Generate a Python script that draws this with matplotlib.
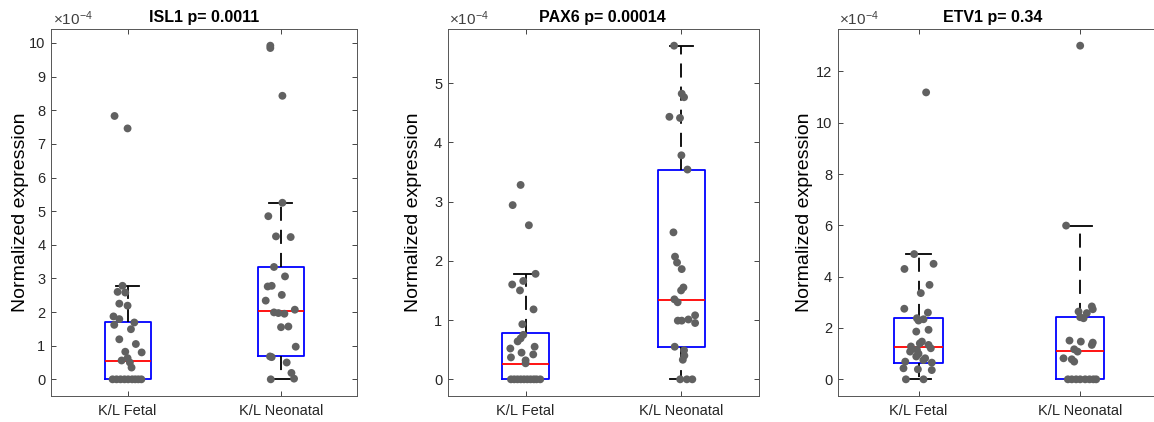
import matplotlib
matplotlib.use('Agg')
import matplotlib.pyplot as plt

plt.rcParams['font.family'] = ['Liberation Sans', 'DejaVu Sans']
plt.rcParams['mathtext.fontset'] = 'custom'
plt.rcParams['mathtext.rm'] = 'Liberation Sans'
plt.rcParams['mathtext.default'] = 'regular'

# ---------------- data (values in units of 1e-4) ----------------
categories = ['K/L Fetal', 'K/L Neonatal']
genes = ['ISL1', 'PAX6', 'ETV1']
p_values = ['0.0011', '0.00014', '0.34']
y_ticks = [list(range(0, 11)), list(range(0, 6)), list(range(0, 13, 2))]

isl1_fetal = [7.83, 7.46, 2.78, 2.60, 2.58, 2.25, 2.19, 1.87, 1.79, 1.62, 1.69, 1.49,
              1.19, 1.05, 0.82, 0.80, 0.56, 0.63, 0.50, 0.35,
              0, 0, 0, 0, 0, 0, 0, 0, 0]
isl1_fetal_jit = [-0.085, 0.0, -0.033, -0.065, -0.015, -0.054, 0.0, -0.092, -0.054, -0.087, 0.044, 0.022,
                  -0.054, 0.054, -0.015, 0.092, -0.039, 0.0, 0.015, 0.026,
                  -0.098, -0.072, -0.046, -0.02, 0.004, 0.03, 0.05, 0.07, 0.09]
isl1_neo = [9.92, 9.85, 8.43, 5.25, 4.85, 4.25, 4.23, 3.34, 3.06, 2.76, 2.78, 2.51, 2.34,
            1.99, 1.97, 1.95, 2.07, 1.55, 1.57, 0.97, 0.68, 0.66, 0.50, 0.19, 0.02, 0.0]
isl1_neo_jit = [-0.068, -0.068, 0.011, 0.011, -0.081, -0.031, 0.065, -0.044, 0.028, -0.085, -0.059, 0.007, -0.098,
                -0.044, -0.015, 0.024, 0.092, 0.002, 0.05, 0.098, -0.070, -0.059, 0.039, 0.07, 0.087, -0.065]

pax6_fetal = [3.28, 2.94, 2.60, 1.78, 1.60, 1.66, 1.50, 1.18, 0.93, 0.75, 0.69, 0.64, 0.52,
              0.55, 0.45, 0.42, 0.37, 0.32, 0.27,
              0, 0, 0, 0, 0, 0, 0, 0, 0, 0]
pax6_fetal_jit = [-0.032, -0.083, 0.021, 0.064, -0.086, -0.015, -0.036, 0.051, -0.021, -0.015, -0.032, -0.051, -0.098,
                  0.058, -0.026, 0.049, -0.094, 0.0, 0.0,
                  -0.094, -0.073, -0.052, -0.031, -0.010, 0.011, 0.032, 0.053, 0.07, 0.094]
pax6_neo = [5.63, 4.82, 4.76, 4.43, 4.41, 3.78, 3.54, 2.48, 2.07, 1.97, 1.86, 1.55, 1.50,
            1.35, 1.30, 0.99, 0.99, 1.01, 1.08, 0.95, 0.55, 0.49, 0.40, 0.33, 0, 0, 0]
pax6_neo_jit = [-0.047, 0.002, 0.017, -0.077, -0.009, 0.0, 0.039, -0.051, -0.041, -0.028, 0.002, 0.013, -0.002,
                -0.045, -0.024, -0.023, 0.002, 0.045, 0.088, 0.088, -0.043, 0.017, 0.019, 0.009, -0.008, 0.035, 0.07]

etv1_fetal = [11.18, 4.88, 4.30, 4.50, 3.68, 3.36, 2.75, 2.60, 2.38, 2.29, 2.34, 1.86, 1.93,
              1.47, 1.40, 1.28, 1.34, 1.21, 1.15, 1.08, 1.00, 0.89, 0.82, 0.75, 0.69, 0.65,
              0.43, 0.39, 0.36, 0, 0]
etv1_fetal_jit = [0.047, -0.027, -0.087, 0.093, 0.068, 0.014, -0.088, 0.058, -0.010, 0.0, 0.031, -0.014, 0.062,
                  0.021, 0.008, -0.047, 0.062, 0.076, -0.010, -0.052, 0.0, -0.014, 0.041, 0.03, -0.082, 0.082,
                  -0.093, -0.004, 0.082, -0.078, 0.031]
etv1_neo = [13.0, 5.99, 2.84, 2.73, 2.64, 2.58, 2.38, 2.42, 1.51, 1.47, 1.43, 1.34, 1.17, 1.08,
            0.82, 0.78, 0.69, 0, 0, 0, 0, 0, 0, 0, 0]
etv1_neo_jit = [0.0, -0.087, 0.072, 0.078, -0.010, 0.041, 0.021, 0.0, -0.066, 0.004, 0.078, 0.072, -0.037, -0.016,
                -0.103, -0.052, -0.037, -0.076, -0.052, -0.025, 0.0, 0.031, 0.058, 0.082, 0.099]

# box statistics: q1, median, q3, lower whisker, upper whisker
isl1_box = [[0.0, 0.55, 1.71, 0.0, 2.78], [0.68, 2.04, 3.34, 0.0, 5.25]]
pax6_box = [[0.0, 0.26, 0.79, 0.0, 1.78], [0.55, 1.34, 3.54, 0.0, 5.63]]
etv1_box = [[0.62, 1.24, 2.38, 0.0, 4.88], [0.0, 1.11, 2.42, 0.0, 5.99]]

panels = [
    (isl1_fetal, isl1_fetal_jit, isl1_neo, isl1_neo_jit, isl1_box),
    (pax6_fetal, pax6_fetal_jit, pax6_neo, pax6_neo_jit, pax6_box),
    (etv1_fetal, etv1_fetal_jit, etv1_neo, etv1_neo_jit, etv1_box),
]

# ---------------- layout ----------------
W, H = 1154, 422
fig = plt.figure(figsize=(W / 100, H / 100), dpi=100)
ax_px = [(51, 306.3), (447.7, 311.6), (837.7, 323.3)]
top_px, bot_px = 29, 396
label_x = [-0.072, -0.081, -0.077]
title_x = [0.5, 0.495, 0.48]
axcol = '#262626'

for i, (fv, fj, nv, nj, box) in enumerate(panels):
    left, width = ax_px[i]
    ax = fig.add_axes([left / W, (H - bot_px) / H, width / W, (bot_px - top_px) / H])
    stats = []
    for b in box:
        stats.append(dict(q1=b[0], med=b[1], q3=b[2], whislo=b[3], whishi=b[4], fliers=[]))
    ax.bxp(stats, positions=[1, 2], widths=0.3, capwidths=0.15, showfliers=False,
           boxprops=dict(color='#0000ff', lw=1.3),
           medianprops=dict(color='#ff0000', lw=1.3),
           whiskerprops=dict(color='black', lw=1.3, linestyle=(0, (7.8, 5.0))),
           capprops=dict(color='black', lw=1.3), zorder=2)
    xs = [1 + j for j in fj] + [2 + j for j in nj]
    ys = list(fv) + list(nv)
    ax.scatter(xs, ys, s=32, color='#616161', edgecolors='none', zorder=3)

    m = max(ys)
    ax.set_ylim(-0.05 * m, 1.05 * m)
    ax.set_xlim(0.5, 2.5)
    ax.set_yticks(y_ticks[i])
    ax.set_xticks([1, 2])
    ax.set_xticklabels(categories)
    ax.tick_params(direction='in', length=3.5, width=0.6, top=True, right=True,
                   color=axcol, labelcolor=axcol, labelsize=10.5)
    ax.tick_params(axis='x', pad=6)
    ax.tick_params(axis='y', pad=4)
    for s in ax.spines.values():
        s.set_color('#555555')
        s.set_linewidth(0.7)
    ax.set_ylabel('Normalized expression', fontsize=14, color='black')
    ax.yaxis.set_label_coords(label_x[i], 0.5)
    ax.set_title(f'{genes[i]} p= {p_values[i]}', fontsize=11.5, fontweight='bold',
                 x=title_x[i], pad=5)
    ax.text(0.005, 1.002, r'$\times10^{-4}$', transform=ax.transAxes, fontsize=11,
            color='#404040', ha='left', va='bottom')

fig.savefig('out.png', dpi=100)
